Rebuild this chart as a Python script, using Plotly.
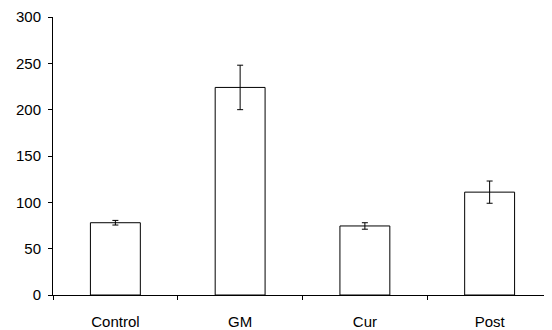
import plotly.graph_objects as go

categories = ["Control", "GM", "Cur", "Post"]
values = [78, 224, 74.5, 111]
errors = [2.5, 24, 3.5, 12]
y_ticks = [0, 50, 100, 150, 200, 250, 300]

fig = go.Figure(go.Bar(
    x=categories, y=values, width=0.4,
    marker=dict(color="white", line=dict(color="black", width=1)),
    error_y=dict(type="data", array=errors, color="black", thickness=1, width=3),
))

# page body has an 8px default margin, so the figure is sized to fit the window
fig.update_layout(
    width=544, height=322,
    margin=dict(l=45, r=0, t=9, b=35, autoexpand=False),
    plot_bgcolor="white", paper_bgcolor="white",
    showlegend=False,
    font=dict(family="Liberation Sans, Arial, sans-serif", size=15, color="black"),
    xaxis=dict(showline=True, linecolor="black", linewidth=1, ticks="outside",
               tickson="boundaries", ticklen=4, tickcolor="black",
               showgrid=False, tickfont=dict(size=15), ticklabelstandoff=13,
               automargin=False),
    yaxis=dict(range=[0, 300], tickvals=y_ticks, showline=True, linecolor="black",
               linewidth=1, ticks="outside", ticklen=4, tickcolor="black",
               showgrid=False, zeroline=False, tickfont=dict(size=15),
               ticklabelstandoff=4, automargin=False),
)

fig.write_html("out.html")
